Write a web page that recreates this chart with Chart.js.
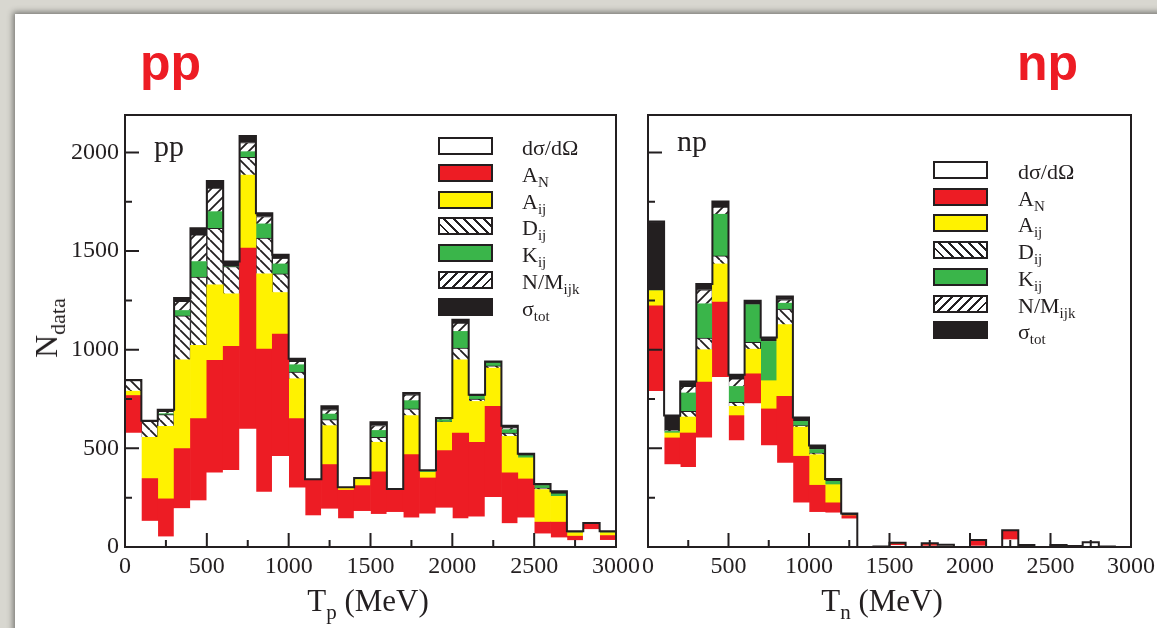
<!DOCTYPE html>
<html>
<head>
<meta charset="utf-8">
<script src="https://cdn.jsdelivr.net/npm/chart.js@4.4.0/dist/chart.umd.min.js"></script>
<style>
  html, body { margin: 0; padding: 0; }
  body { width: 1157px; height: 628px; overflow: hidden; position: relative; background: #d8d7d0; font-family: 'Liberation Serif', serif; color: #231f20; }
  #card { position: absolute; left: 15px; top: 14px; right: -30px; bottom: -30px; background: #fff; box-shadow: -2px -2px 6px rgba(0,0,0,.45); }
  canvas { position: absolute; top: 0; }
  .big { position: absolute; font: bold 50px 'Liberation Sans', Arial, sans-serif; color: #ed1c24; line-height: 50px; }
  .tag { position: absolute; font-size: 30px; line-height: 30px; }
  .leg { position: absolute; height: 22px; line-height: 22px; font-size: 22px; white-space: nowrap; }
  .leg i { position: absolute; left: 0; top: 0; width: 51px; height: 14px; border: 2px solid #231f20; }
  .leg span { position: absolute; }
  sub { font-size: 15px; vertical-align: -5px; line-height: 0; }
  .axt { position: absolute; font-size: 31px; line-height: 31px; white-space: nowrap; transform: translateX(-50%); }
  .axt sub { font-size: 21px; vertical-align: -8px; }
  #ylab { position: absolute; left: 46px; top: 328px; font-size: 32px; line-height: 32px; white-space: nowrap; transform: translate(-50%, -50%) rotate(-90deg); }
  #ylab sub { font-size: 22px; vertical-align: -8px; }
</style>
</head>
<body>
<div id="card"></div>
<canvas id="pp" width="645" height="628" style="left:0"></canvas>
<canvas id="np" width="540" height="628" style="left:620px"></canvas>

<div class="big" style="left:140px;top:38px">pp</div>
<div class="big" style="left:1017px;top:38px">np</div>
<div class="tag" style="left:154px;top:131px">pp</div>
<div class="tag" style="left:677px;top:126px">np</div>

<div id="legend-pp"></div>
<div id="legend-np"></div>

<div class="axt" style="left:368px;top:585px">T<sub>p</sub> (MeV)</div>
<div class="axt" style="left:882px;top:585px">T<sub>n</sub> (MeV)</div>
<div id="ylab">N<sub>data</sub></div>

<script>
// ── bins: 100 MeV wide, 0..3000
const BIN_CENTERS = [50,150,250,350,450,550,650,750,850,950,1050,1150,1250,1350,1450,1550,1650,1750,1850,1950,2050,2150,2250,2350,2450,2550,2650,2750,2850,2950];
const X_TICKS = [0, 500, 1000, 1500, 2000, 2500, 3000];
const Y_TICKS = [0, 500, 1000, 1500, 2000];

// ── pp counts per observable (stack order bottom → top)
const ppDsdo = [578,131,52,195,235,376,389,598,279,460,300,159,193,144,181,166,176,148,168,198,144,153,252,119,148,67,47,33,89,34];
const ppAN   = [190,216,192,304,416,570,628,917,724,619,351,183,225,144,130,215,115,320,182,291,434,378,461,257,197,59,79,22,28,24];
const ppAij  = [22,209,368,450,371,383,267,371,382,211,202,0,197,12,31,150,0,198,29,143,371,207,194,185,107,165,131,17,0,14];
const ppDij  = [54,81,59,223,346,287,138,90,181,95,34,0,31,0,0,25,0,34,0,3,60,12,12,17,0,8,0,0,0,0];
const ppKij  = [0,0,5,27,79,84,0,28,72,50,37,0,28,0,0,35,0,42,5,10,84,14,14,17,11,12,12,0,0,0];
const ppNM   = [0,0,12,46,135,119,0,46,37,29,17,0,22,0,0,25,0,30,0,3,42,0,0,10,0,0,0,0,0,0];
const ppSig  = [3,3,8,17,34,37,25,34,17,17,13,1,17,3,8,17,3,9,5,6,17,8,8,10,10,9,14,8,5,8];

// ── np counts per observable
const npDsdo = [789,418,404,553,860,539,727,514,426,224,176,173,143,0,2,8,0,5,8,0,5,0,37,5,0,6,3,20,3,0];
const npAN   = [434,135,174,283,382,127,151,186,338,236,137,51,16,0,0,8,0,8,0,0,25,0,45,0,0,0,0,0,0,0];
const npAij  = [76,25,81,164,193,47,125,143,363,148,155,92,0,0,0,0,0,0,0,0,0,0,0,0,0,0,0,0,0,0];
const npDij  = [0,0,29,59,41,20,34,0,79,8,8,0,0,0,0,0,0,0,0,0,0,0,0,0,0,0,0,0,0,0];
const npKij  = [0,8,93,174,211,81,191,199,30,21,18,17,0,0,0,0,0,0,0,0,0,0,0,0,0,0,0,0,0,0];
const npNM   = [0,5,33,71,36,38,0,0,17,0,0,0,0,0,0,0,0,0,0,0,0,0,0,0,0,0,0,0,0,0];
const npSig  = [351,76,25,29,28,21,20,20,17,20,20,12,11,0,0,6,0,6,4,0,5,0,3,5,0,4,2,4,0,0];

const LABELS = ['dσ/dΩ', 'A<sub>N</sub>', 'A<sub>ij</sub>', 'D<sub>ij</sub>', 'K<sub>ij</sub>', 'N/M<sub>ijk</sub>', 'σ<sub>tot</sub>'];

const INK = '#231f20';
const RED = '#ed1c24', YELLOW = '#fff200', GREEN = '#3ab54a';
const Y_MAX = 2190;

function hatch(back) {
  const s = 10, c = document.createElement('canvas');
  c.width = c.height = s;
  const g = c.getContext('2d');
  g.fillStyle = '#fff'; g.fillRect(0, 0, s, s);
  g.strokeStyle = INK; g.lineWidth = 1.8;
  g.beginPath();
  if (back) {
    g.moveTo(0, 0); g.lineTo(s, s);
    g.moveTo(-s, 0); g.lineTo(0, s);
    g.moveTo(s, 0); g.lineTo(2 * s, s);
  } else {
    g.moveTo(0, s); g.lineTo(s, 0);
    g.moveTo(-s, s); g.lineTo(s, -s);
    g.moveTo(0, 2 * s); g.lineTo(2 * s, 0);
  }
  g.stroke();
  return g.createPattern(c, 'repeat');
}

const FILLS = ['#ffffff', RED, YELLOW, hatch(true), GREEN, hatch(false), INK];
const OUTLINED = [false, false, false, true, false, true, true];
const CSS_FILLS = [
  '#fff', RED, YELLOW,
  'repeating-linear-gradient(45deg,#fff 0 5px,' + INK + ' 5px 7px)',
  GREEN,
  'repeating-linear-gradient(-45deg,#fff 0 5px,' + INK + ' 5px 7px)',
  INK
];

// inward ticks + frame
const frameTicks = {
  id: 'frameTicks',
  afterDatasetsDraw(chart) {
    const { ctx, chartArea: a, scales: { x, y } } = chart;
    ctx.save();
    ctx.strokeStyle = INK;
    ctx.lineWidth = 2;
    ctx.beginPath();
    for (let v = 250; v < 3000; v += 250) {
      const px = x.getPixelForValue(v), len = v % 500 ? 7 : 14;
      ctx.moveTo(px, a.bottom); ctx.lineTo(px, a.bottom - len);
    }
    for (let v = 250; v < Y_MAX; v += 250) {
      const py = y.getPixelForValue(v), len = v % 500 ? 7 : 14;
      ctx.moveTo(a.left, py); ctx.lineTo(a.left + len, py);
    }
    ctx.stroke();
    ctx.strokeRect(a.left, a.top, a.right - a.left, a.bottom - a.top);
    ctx.restore();
  }
};

function histogram(id, series, yWidth, padRight, showY) {
  const totals = BIN_CENTERS.map((_, i) => series.reduce((s, arr) => s + arr[i], 0));
  const outline = [{ x: 0, y: 0 }, { x: 0, y: totals[0] }]
    .concat(BIN_CENTERS.map((c, i) => ({ x: c, y: totals[i] })))
    .concat([{ x: 3000, y: totals[totals.length - 1] }, { x: 3000, y: 0 }]);

  const datasets = series.map((arr, k) => ({
    type: 'bar',
    data: BIN_CENTERS.map((c, i) => ({ x: c, y: arr[i] })),
    backgroundColor: FILLS[k],
    borderColor: INK,
    borderWidth: OUTLINED[k] ? 1 : 0,
    barPercentage: 1,
    categoryPercentage: 1,
    order: 1
  }));
  datasets.push({
    type: 'line', stack: 'outline', data: outline, stepped: 'middle',
    borderColor: INK, borderWidth: 2, pointRadius: 0, fill: false, order: -1
  });

  const font = { family: 'Liberation Serif', size: 24 };
  new Chart(document.getElementById(id), {
    type: 'bar',
    data: { datasets },
    options: {
      responsive: false,
      animation: false,
      layout: { padding: { left: 0, right: padRight, top: 115, bottom: 0 } },
      plugins: { legend: { display: false }, tooltip: { enabled: false } },
      scales: {
        x: {
          type: 'linear', min: 0, max: 3000, stacked: true, offset: false,
          grid: { display: false, drawTicks: false, offset: false }, border: { display: false },
          afterBuildTicks: s => { s.ticks = X_TICKS.map(v => ({ value: v })); },
          ticks: { padding: 5, color: INK, font, maxRotation: 0, autoSkip: false, callback: v => String(v) },
          afterFit: s => { s.height = 81; }
        },
        y: {
          type: 'linear', min: 0, max: Y_MAX, stacked: true,
          grid: { display: false, drawTicks: false }, border: { display: false },
          afterBuildTicks: s => { s.ticks = Y_TICKS.map(v => ({ value: v })); },
          ticks: { display: showY, padding: 6, color: INK, font, callback: v => String(v) },
          afterFit: s => { s.width = yWidth; }
        }
      }
    },
    plugins: [frameTicks]
  });
}

function legend(id, boxLeft, textLeft, top0, step) {
  document.getElementById(id).innerHTML = LABELS.map((lab, k) =>
    `<div class="leg" style="left:${boxLeft}px;top:${(top0 + k * step).toFixed(1)}px">` +
    `<i style="background:${CSS_FILLS[k]}"></i>` +
    `<span style="left:${textLeft - boxLeft}px">${lab}</span></div>`
  ).join('');
}

histogram('pp', [ppDsdo, ppAN, ppAij, ppDij, ppKij, ppNM, ppSig], 125, 28, true);
histogram('np', [npDsdo, npAN, npAij, npDij, npKij, npNM, npSig], 28, 27, false);

legend('legend-pp', 438, 522, 137, 26.8);
legend('legend-np', 933, 1018, 161, 26.7);
</script>
</body>
</html>
